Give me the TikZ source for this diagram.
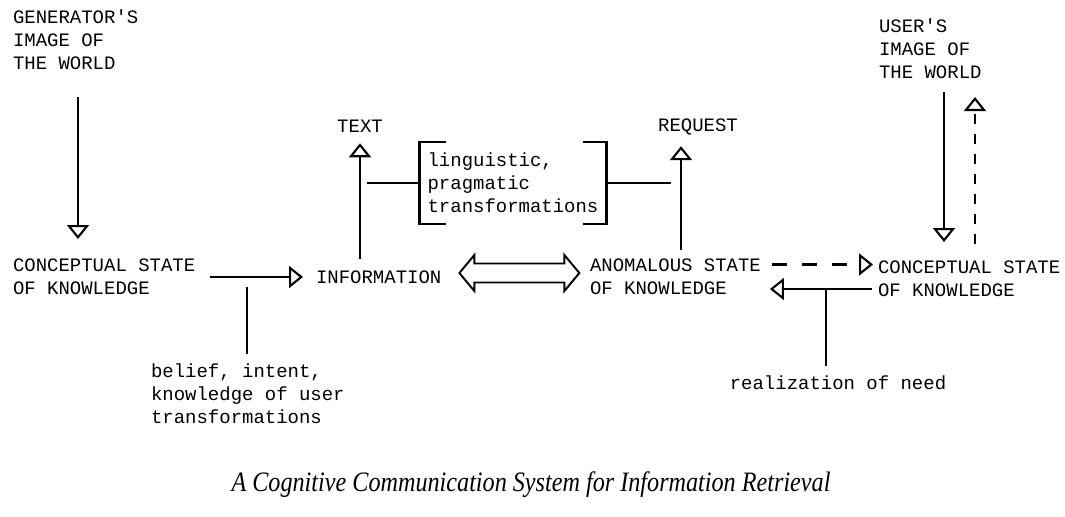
\documentclass[tikz,border=0pt]{standalone}
\usepackage{fontspec}
\setmonofont{Liberation Mono}
\newfontfamily\capfont[FakeStretch=0.86]{Liberation Serif}
\usepackage{tikz}
\usetikzlibrary{positioning, calc}
\usetikzlibrary{arrows.meta}

\begin{document}
\begin{tikzpicture}[x=0.02cm,y=-0.02cm,line width=1.2pt,>={Triangle[open,length=0.28cm,width=0.44cm]}]
  \tikzstyle{lbl}=[font=\fontsize{10.8}{13.1}\selectfont\ttfamily,align=left,inner sep=0pt,anchor=west]
  \tikzstyle{arr}=[->]
  \tikzstyle{dashh}=[dash pattern=on 0.3cm off 0.3cm]
  \tikzstyle{dashv}=[dash pattern=on 0.2cm off 0.2cm]

  \useasboundingbox (0,0) rectangle (1065,517);

  \node[lbl] (gimg) at (12,40) {GENERATOR'S\\IMAGE OF\\THE WORLD};
  \node[lbl] (cgen) at (12,277) {CONCEPTUAL STATE\\OF KNOWLEDGE};
  \node[lbl] (info) at (315,277) {INFORMATION};
  \node[lbl] (belief) at (150,394) {belief, intent,\\knowledge of user\\transformations};
  \node[lbl,anchor=center] (txt) at (360,126) {TEXT};
  \node[lbl,anchor=center,inner xsep=0.14cm,inner ysep=0.2cm] (ling) at (513,183) {linguistic,\\pragmatic\\transformations};
  \node[lbl,anchor=center] (req) at (698,127) {REQUEST};
  \node[lbl] (asok) at (589,277) {ANOMALOUS STATE\\OF KNOWLEDGE};
  \node[lbl] (uimg) at (878,49) {USER'S\\IMAGE OF\\THE WORLD};
  \node[lbl] (cuser) at (877,279) {CONCEPTUAL STATE\\OF KNOWLEDGE};
  \node[lbl,anchor=center] (need) at (838,383) {realization of need};
  \node[font=\capfont\itshape\fontsize{16}{18}\selectfont,inner sep=0pt] (cap) at (531,485) {A Cognitive Communication System for Information Retrieval};

  \coordinate (gx) at (78,0);
  \coordinate (bx) at (247,287);
  \coordinate (rx) at (681,0);
  \coordinate (nx) at (826,289);
  \coordinate (ux) at (944,0);
  \coordinate (vx) at (975,0);

  \draw[arr,shorten <=0.52cm,shorten >=0.38cm] (gimg.south -| gx) -- (cgen.north -| gx);
  \draw[arr,shorten <=0.28cm,shorten >=0.24cm] (cgen.east) -- (info.west);
  \draw[shorten >=0.18cm] (bx) -- (bx |- belief.north);
  \draw[arr,shorten <=0.22cm,shorten >=0.2cm] (info.north -| txt) -- (txt.south);

  \draw (ling.north west) ++(26,0) -- (ling.north west) -- (ling.south west) -- ++(26,0);
  \draw (ling.north east) ++(-23,0) -- (ling.north east) -- (ling.south east) -- ++(-23,0);
  \draw (ling.west) -- ++(-53,0);
  \draw (ling.east) -- ++(65,0);

  \draw[arr,shorten <=0.16cm,shorten >=0.2cm] (asok.north -| rx) -- (req.south -| rx);

  \draw[line width=1.1pt] ([xshift=0.34cm,yshift=0.08cm]info.east) coordinate (dl)
    -- ++(15,-18) -- ++(0,8.5) -- ++(90,0) -- ++(0,-8.5) -- ++(15,18)
    -- ++(-15,18) -- ++(0,-8.5) -- ++(-90,0) -- ++(0,8.5) -- cycle;

  \draw[arr,dashh,shorten <=0.2cm,shorten >=0.08cm] ([yshift=0.25cm]asok.east) -- ([yshift=0.25cm]asok.east -| cuser.west);
  \draw[arr,shorten <=0.1cm,shorten >=0.16cm] ([yshift=-0.2cm]cuser.west) -- ([yshift=-0.2cm]cuser.west -| asok.east);
  \draw[shorten >=0.18cm] (nx) -- (nx |- need.north);

  \draw[arr,shorten <=0.24cm,shorten >=0.36cm] (uimg.south -| ux) -- (cuser.north -| ux);
  \draw[arr,dashv,shorten <=0.32cm,shorten >=0.34cm] (cuser.north -| vx) -- (uimg.south -| vx);
\end{tikzpicture}
\end{document}
